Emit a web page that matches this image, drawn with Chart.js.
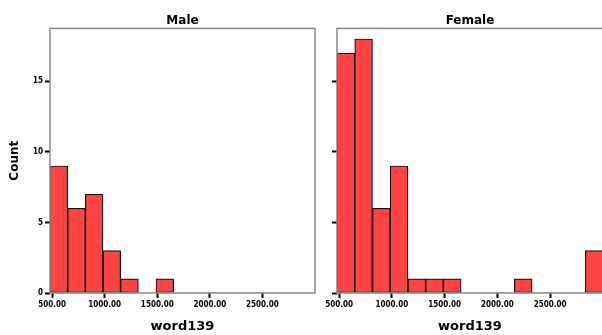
<!DOCTYPE html>
<html>
<head>
<meta charset="utf-8">
<script src="https://cdn.jsdelivr.net/npm/chart.js@4"></script>
<style>
html,body{margin:0;padding:0;background:#fff;overflow:hidden;width:602px;height:335px;}
canvas{position:absolute;top:0;}
#male{left:0;}
#female{left:287px;}
</style>
</head>
<body>
<canvas id="male" width="330" height="335"></canvas>
<canvas id="female" width="330" height="335"></canvas>
<script>
// Histogram bins of word139 (bin width 168, from 480 to 3000)
const binCenters = [564, 732, 900, 1068, 1236, 1404, 1572, 1740, 1908, 2076, 2244, 2412, 2580, 2748, 2916];
const maleCounts   = [9, 6, 7, 3, 1, 0, 1, 0, 0, 0, 0, 0, 0, 0, 0];
const femaleCounts = [17, 18, 6, 9, 1, 1, 1, 0, 0, 0, 1, 0, 0, 0, 3];
const xTickValues = [500, 1000, 1500, 2000, 2500];
const yTickValues = [0, 5, 10, 15];
const xMin = 480, xMax = 3000, yMax = 18.75;

const frame = {
  id: 'frame',
  afterDatasetsDraw(chart) {
    const a = chart.chartArea, ctx = chart.ctx;
    ctx.save();
    ctx.strokeStyle = '#8a8a8a';
    ctx.lineWidth = 1.5;
    ctx.strokeRect(a.left, a.top, a.right - a.left, a.bottom - a.top);
    ctx.restore();
  }
};

function makeChart(id, title, counts, showY) {
  return new Chart(document.getElementById(id), {
    type: 'bar',
    data: {
      datasets: [{
        data: binCenters.map((c, i) => ({x: c, y: counts[i]})),
        backgroundColor: '#ff4444',
        borderColor: '#111',
        borderWidth: ctx => (ctx.raw && ctx.raw.y > 0 ? 1.2 : 0),
        borderSkipped: false,
        barPercentage: 1,
        categoryPercentage: 1
      }]
    },
    options: {
      responsive: false,
      animation: false,
      devicePixelRatio: 1,
      layout: {padding: {left: 0, right: showY ? 15 : 14, top: 0, bottom: 0}},
      plugins: {
        legend: {display: false},
        tooltip: {enabled: false},
        title: {
          display: true, text: title, fullSize: false,
          color: '#000',
          font: {family: 'DejaVu Sans, sans-serif', size: 12, weight: 'bold'},
          padding: {top: 14, bottom: 0}
        }
      },
      scales: {
        x: {
          type: 'linear', min: xMin, max: xMax, offset: false,
          afterBuildTicks: s => { s.ticks = xTickValues.map(v => ({value: v})); },
          afterFit: s => { s.height = 42; },
          border: {display: false},
          grid: {offset: false, drawOnChartArea: false, drawTicks: true, tickLength: 5, tickWidth: 2, color: '#000'},
          ticks: {
            color: '#000', padding: 2, maxRotation: 0, autoSkip: false,
            font: {family: 'DejaVu Sans Condensed, DejaVu Sans, sans-serif', size: 8, weight: 'bold'},
            callback: v => v.toFixed(2)
          },
          title: {
            display: true, text: 'word139', color: '#000',
            font: {family: 'DejaVu Sans, sans-serif', size: 13, weight: 'bold'},
            padding: {top: 0, bottom: 1}
          }
        },
        y: {
          min: 0, max: yMax,
          afterBuildTicks: s => { s.ticks = yTickValues.map(v => ({value: v})); },
          afterFit: s => { s.width = 50; },
          border: {display: false},
          grid: {offset: false, drawOnChartArea: false, drawTicks: true, tickLength: 5, tickWidth: 2, color: '#000'},
          ticks: {
            display: showY, color: '#000', padding: 2,
            font: {family: 'DejaVu Sans Condensed, DejaVu Sans, sans-serif', size: 8, weight: 'bold'}
          },
          title: {
            display: showY, text: 'Count', color: '#000',
            font: {family: 'DejaVu Sans, sans-serif', size: 12, weight: 'bold'},
            padding: {top: 8, bottom: 0}
          }
        }
      }
    },
    plugins: [frame]
  });
}

makeChart('male', 'Male', maleCounts, true);
makeChart('female', 'Female', femaleCounts, false);
</script>
</body>
</html>
